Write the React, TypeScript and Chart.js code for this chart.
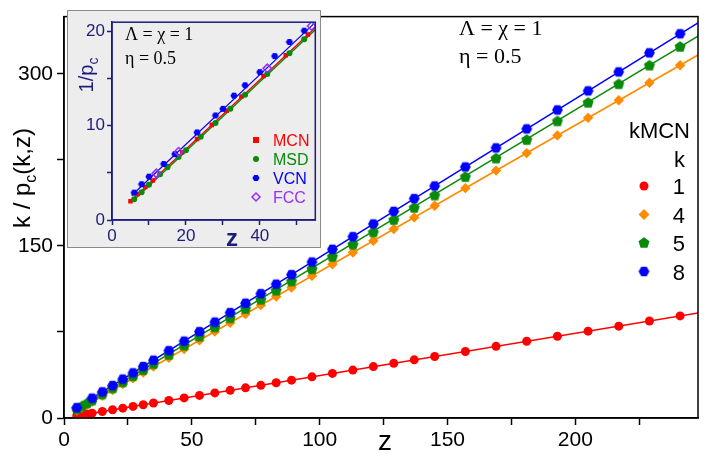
import React, { useEffect, useRef } from 'react';
import { Chart, registerables } from 'chart.js';
Chart.register(...registerables);

// ---------- main chart data ----------
const zGrid = [5, 7, 9, 11, 15, 19, 23, 27, 31, 35, 41, 47, 53, 59, 65, 71, 77, 83, 89, 97, 105, 113, 121, 129, 137, 145, 157, 169, 181, 193, 205, 217, 229, 241];
const k1Values = [2.0, 2.75, 3.5, 4.2, 5.7, 7.2, 8.6, 10.1, 11.6, 13.1, 15.3, 17.5, 19.7, 21.9, 24.1, 26.3, 28.5, 30.7, 33.0, 35.9, 38.9, 41.8, 44.8, 47.7, 50.7, 53.6, 58.0, 62.5, 66.9, 71.3, 75.7, 80.1, 84.6, 89.0];
const k4Values = [6.5, 9.1, 11.6, 14.2, 19.3, 24.4, 29.5, 34.6, 39.7, 44.8, 52.5, 60.1, 67.8, 75.4, 83.1, 90.7, 98.4, 106.0, 113.7, 123.9, 134.1, 144.3, 154.5, 164.7, 174.9, 185.1, 200.4, 215.7, 231.0, 246.4, 261.7, 277.0, 292.3, 307.6];
const k5Values = [7.5, 10.0, 12.6, 15.2, 20.5, 25.8, 31.1, 36.4, 41.7, 47.0, 55.0, 63.0, 71.0, 79.0, 87.0, 95.0, 103.0, 111.0, 119.0, 129.7, 140.4, 151.1, 161.8, 172.5, 183.2, 193.9, 210.0, 226.2, 242.4, 258.6, 274.8, 291.0, 307.2, 323.6];
const zK8 = [5, 11, 15, 19, 23, 27, 31, 35, 41, 47, 53, 59, 65, 71, 77, 83, 89, 97, 105, 113, 121, 129, 137, 145, 157, 169, 181, 193, 205, 217, 229, 241];
const k8Values = [9.0, 17.3, 22.8, 28.3, 33.9, 39.4, 44.9, 50.4, 58.7, 67.0, 75.3, 83.6, 91.9, 100.1, 108.4, 116.7, 125.0, 136.0, 147.1, 158.1, 169.2, 180.2, 191.3, 202.3, 218.9, 235.5, 252.1, 268.6, 285.2, 301.8, 318.4, 335.0];

const fitZ = [5, 250];
const fitK1 = [2.0, 92.3];
const fitK4 = [6.5, 319.1];
const fitK5 = [7.5, 335.6];
const fitK8 = [9.0, 347.3];

const xTickValues = [0, 25, 50, 75, 100, 125, 150, 175, 200, 225];
const xTickLabels = [0, 50, 100, 150, 200];
const yTickValues = [0, 75, 150, 225, 300];
const yTickLabels = [0, 150, 300];

const legendTitle = 'kMCN';
const legendSub = 'k';
const legendKs = ['1', '4', '5', '8'];
const paramLine1 = 'Λ = χ = 1';
const paramLine2 = 'η = 0.5';

// ---------- inset data ----------
const mcnZ = [5, 7, 9, 11, 15, 19, 23, 27, 31, 35, 41, 47, 53];
const mcnV = [2.0, 2.75, 3.5, 4.2, 5.7, 7.2, 8.6, 10.1, 11.6, 13.1, 15.3, 17.5, 19.7];
const msdZ = [6, 8, 10, 13, 15, 18, 20, 24, 28, 32, 36, 42, 48, 52];
const msdV = [2.2, 2.95, 3.75, 4.85, 5.6, 6.7, 7.4, 8.85, 10.3, 11.8, 13.3, 15.5, 17.7, 19.2];
const vcnZ = [6, 8, 10, 14, 17, 23, 28, 30, 33, 36, 40, 44, 48, 52];
const vcnV = [2.9, 3.8, 4.6, 5.95, 7.0, 9.3, 11.1, 11.8, 13.2, 14.3, 15.7, 17.4, 18.9, 20.1];
const fccZ = [12, 18, 42, 54];
const fccV = [4.95, 7.25, 16.1, 20.6];

const mcnFitZ = [5, 55];
const mcnFitV = [2.0, 20.4];
const msdFitZ = [6, 55];
const msdFitV = [2.15, 20.2];
const vcnFitZ = [5.3, 54.5];
const vcnFitV = [2.6, 20.8];

const insetXTicks = [0, 10, 20, 30, 40, 50];
const insetXLabels = [0, 20, 40];
const insetYTicks = [0, 5, 10, 15, 20];
const insetYLabels = [0, 10, 20];
const insetLegend = ['MCN', 'MSD', 'VCN', 'FCC'];

// ---------- styles ----------
const RED = '#ff0000';
const ORANGE = '#ff8c00';
const GREEN = '#0a8a0a';
const BLUE = '#0000ff';
const PURPLE = '#9a2cff';
const NAVY = '#1c1c80';
const SANS = "'Liberation Sans', Arial, Helvetica, sans-serif";
const SERIF = "'Liberation Serif', 'Times New Roman', serif";

function zip(xs: number[], ys: number[]) {
  return xs.map((x, i) => ({ x, y: ys[i] }));
}

function polygonImage(n: number, r: number, color: string, rot: number) {
  const c = document.createElement('canvas');
  const s = Math.ceil(2 * r + 2);
  c.width = s;
  c.height = s;
  const ctx = c.getContext('2d')!;
  ctx.fillStyle = color;
  ctx.beginPath();
  for (let i = 0; i < n; i++) {
    const a = rot + (i * 2 * Math.PI) / n;
    const px = s / 2 + r * Math.cos(a);
    const py = s / 2 + r * Math.sin(a);
    if (i === 0) ctx.moveTo(px, py);
    else ctx.lineTo(px, py);
  }
  ctx.closePath();
  ctx.fill();
  return c;
}

function fitLine(xs: number[], ys: number[], color: string, width: number) {
  return {
    type: 'line' as const,
    data: zip(xs, ys),
    borderColor: color,
    borderWidth: width,
    pointRadius: 0,
    showLine: true,
    fill: false,
    order: 10,
  };
}

export default function App() {
  const mainRef = useRef<HTMLCanvasElement>(null);
  const insetRef = useRef<HTMLCanvasElement>(null);

  useEffect(() => {
    const pentagon = polygonImage(5, 5.8, GREEN, -Math.PI / 2);
    const hexagon = polygonImage(6, 5.4, BLUE, 0);
    const hexSmall = polygonImage(6, 3.6, BLUE, 0);

    const mainPlugin = {
      id: 'mainDeco',
      afterDraw(chart: any) {
        const ctx = chart.ctx as CanvasRenderingContext2D;
        const a = chart.chartArea;
        ctx.save();
        ctx.strokeStyle = '#000';
        ctx.lineWidth = 1.5;
        ctx.strokeRect(a.left, a.top, a.right - a.left, a.bottom - a.top);

        // parameters
        ctx.fillStyle = '#000';
        ctx.font = `22px ${SERIF}`;
        ctx.textAlign = 'left';
        ctx.textBaseline = 'alphabetic';
        ctx.fillText(paramLine1, 459, 35);
        ctx.fillText(paramLine2, 459, 63);

        // x title
        ctx.font = `28px ${SANS}`;
        ctx.textAlign = 'center';
        ctx.fillText('z', 385, 450);

        // y title
        ctx.save();
        ctx.translate(30, 178);
        ctx.rotate(-Math.PI / 2);
        const big = `24px ${SANS}`;
        const small = `16px ${SANS}`;
        const p1 = 'k / p';
        const sub = 'c';
        const p2 = '(k,z)';
        ctx.font = big;
        const w1 = ctx.measureText(p1).width;
        const w3 = ctx.measureText(p2).width;
        ctx.font = small;
        const w2 = ctx.measureText(sub).width;
        const tot = w1 + w2 + w3;
        let sx = -tot / 2;
        ctx.textAlign = 'left';
        ctx.font = big;
        ctx.fillText(p1, sx, 0);
        sx += w1;
        ctx.font = small;
        ctx.fillText(sub, sx, 6);
        sx += w2;
        ctx.font = big;
        ctx.fillText(p2, sx, 0);
        ctx.restore();

        // legend
        ctx.font = `22px ${SANS}`;
        ctx.textAlign = 'right';
        ctx.fillStyle = '#000';
        ctx.fillText(legendTitle, 690, 138);
        ctx.fillText(legendSub, 685, 167);
        const rows = [186, 214.5, 243, 271.5];
        const mx = 644;
        legendKs.forEach((t, i) => {
          const cy = rows[i];
          ctx.fillStyle = '#000';
          ctx.fillText(t, 685, cy + 8);
          if (i === 0) {
            ctx.fillStyle = RED;
            ctx.beginPath();
            ctx.arc(mx, cy, 4.5, 0, Math.PI * 2);
            ctx.fill();
          } else if (i === 1) {
            ctx.fillStyle = ORANGE;
            ctx.beginPath();
            ctx.moveTo(mx, cy - 5.5);
            ctx.lineTo(mx + 5.5, cy);
            ctx.lineTo(mx, cy + 5.5);
            ctx.lineTo(mx - 5.5, cy);
            ctx.closePath();
            ctx.fill();
          } else if (i === 2) {
            ctx.drawImage(pentagon, mx - pentagon.width / 2, cy - pentagon.height / 2);
          } else {
            ctx.drawImage(hexagon, mx - hexagon.width / 2, cy - hexagon.height / 2);
          }
        });
        ctx.restore();
      },
    };

    const main = new Chart(mainRef.current!, {
      type: 'scatter',
      data: {
        datasets: [
          { data: zip(zK8, k8Values), pointStyle: hexagon as any, pointRadius: 5.5, showLine: false, order: 0 },
          { data: zip(zGrid, k5Values), pointStyle: pentagon as any, pointRadius: 6, showLine: false, order: 1 },
          { data: zip(zGrid, k4Values), pointStyle: 'rectRot', pointRadius: 5.2, backgroundColor: ORANGE, borderColor: ORANGE, borderWidth: 0, showLine: false, order: 2 },
          { data: zip(zGrid, k1Values), pointStyle: 'circle', pointRadius: 4.5, backgroundColor: RED, borderColor: RED, borderWidth: 0, showLine: false, order: 3 },
          fitLine(fitZ, fitK8, BLUE, 1.6),
          fitLine(fitZ, fitK5, GREEN, 1.6),
          fitLine(fitZ, fitK4, ORANGE, 1.6),
          fitLine(fitZ, fitK1, RED, 1.6),
        ] as any,
      },
      options: {
        animation: false,
        responsive: false,
        devicePixelRatio: 1,
        layout: { padding: { left: 0, top: 7, right: 4, bottom: 0 } },
        plugins: { legend: { display: false }, tooltip: { enabled: false } },
        events: [],
        scales: {
          x: {
            type: 'linear',
            min: 0,
            max: 248,
            afterBuildTicks: (s: any) => { s.ticks = xTickValues.map((v) => ({ value: v })); },
            afterFit: (s: any) => { s.height = 39; },
            ticks: {
              autoSkip: false,
              maxRotation: 0,
              color: '#000',
              padding: 3,
              font: { family: SANS, size: 21 },
              callback: (v: any) => (xTickLabels.includes(Number(v)) ? String(v) : ''),
            },
            grid: { drawOnChartArea: false, drawTicks: true, tickLength: 7, tickColor: '#000', tickWidth: 1.5 },
            border: { display: true, color: '#000', width: 1.5 },
          },
          y: {
            type: 'linear',
            min: 0,
            max: 350,
            afterBuildTicks: (s: any) => { s.ticks = yTickValues.map((v) => ({ value: v })); },
            afterFit: (s: any) => { s.width = 64; },
            ticks: {
              autoSkip: false,
              color: '#000',
              padding: 4,
              font: { family: SANS, size: 21 },
              callback: (v: any) => (yTickLabels.includes(Number(v)) ? String(v) : ''),
            },
            grid: { drawOnChartArea: false, drawTicks: true, tickLength: 7, tickColor: '#000', tickWidth: 1.5 },
            border: { display: true, color: '#000', width: 1.5 },
          },
        },
      } as any,
      plugins: [mainPlugin],
    });

    const insetPlugin = {
      id: 'insetDeco',
      beforeDraw(chart: any) {
        const ctx = chart.ctx as CanvasRenderingContext2D;
        ctx.save();
        ctx.fillStyle = '#ededed';
        ctx.fillRect(0, 0, chart.width, chart.height);
        ctx.strokeStyle = '#8a8a8a';
        ctx.lineWidth = 1;
        ctx.strokeRect(0.5, 0.5, chart.width - 1, chart.height - 1);
        ctx.restore();
      },
      afterDraw(chart: any) {
        const ctx = chart.ctx as CanvasRenderingContext2D;
        const a = chart.chartArea;
        ctx.save();
        ctx.strokeStyle = NAVY;
        ctx.lineWidth = 1.5;
        ctx.strokeRect(a.left, a.top, a.right - a.left, a.bottom - a.top);

        ctx.fillStyle = '#000';
        ctx.font = `18px ${SERIF}`;
        ctx.textAlign = 'left';
        ctx.textBaseline = 'alphabetic';
        ctx.fillText(paramLine1, 58, 30);
        ctx.fillText(paramLine2, 58, 54);

        // x title
        ctx.fillStyle = NAVY;
        ctx.font = `bold 24px ${SANS}`;
        ctx.textAlign = 'center';
        ctx.fillText('z', 165, 236);

        // y title
        ctx.save();
        ctx.translate(26, 65);
        ctx.rotate(-Math.PI / 2);
        const big = `20px ${SANS}`;
        const small = `14px ${SANS}`;
        ctx.font = big;
        const w1 = ctx.measureText('1/p').width;
        ctx.font = small;
        const w2 = ctx.measureText('c').width;
        let sx = -(w1 + w2) / 2;
        ctx.textAlign = 'left';
        ctx.font = big;
        ctx.fillText('1/p', sx, 0);
        sx += w1;
        ctx.font = small;
        ctx.fillText('c', sx, 5);
        ctx.restore();

        // legend
        const rows = [130, 149, 168, 187];
        const colors = [RED, GREEN, BLUE, PURPLE];
        const mx = 189;
        ctx.font = `16px ${SANS}`;
        ctx.textAlign = 'left';
        insetLegend.forEach((t, i) => {
          const cy = rows[i];
          ctx.fillStyle = colors[i];
          ctx.fillText(t, 206, cy + 6);
          if (i === 0) {
            ctx.fillRect(mx - 3, cy - 3, 6, 6);
          } else if (i === 1) {
            ctx.beginPath();
            ctx.arc(mx, cy, 3, 0, Math.PI * 2);
            ctx.fill();
          } else if (i === 2) {
            ctx.drawImage(hexSmall, mx - hexSmall.width / 2, cy - hexSmall.height / 2);
          } else {
            ctx.strokeStyle = PURPLE;
            ctx.lineWidth = 1.5;
            ctx.beginPath();
            ctx.moveTo(mx, cy - 4);
            ctx.lineTo(mx + 4, cy);
            ctx.lineTo(mx, cy + 4);
            ctx.lineTo(mx - 4, cy);
            ctx.closePath();
            ctx.stroke();
          }
        });
        ctx.restore();
      },
    };

    const inset = new Chart(insetRef.current!, {
      type: 'scatter',
      data: {
        datasets: [
          { data: zip(fccZ, fccV), pointStyle: 'rectRot', pointRadius: 4.2, backgroundColor: 'rgba(0,0,0,0)', borderColor: PURPLE, borderWidth: 1.5, showLine: false, order: 0 },
          { data: zip(vcnZ, vcnV), pointStyle: hexSmall as any, pointRadius: 3.6, showLine: false, order: 1 },
          { data: zip(msdZ, msdV), pointStyle: 'circle', pointRadius: 3, backgroundColor: GREEN, borderWidth: 0, showLine: false, order: 2 },
          { data: zip(mcnZ, mcnV), pointStyle: 'rect', pointRadius: 3.2, backgroundColor: RED, borderWidth: 0, showLine: false, order: 3 },
          fitLine(vcnFitZ, vcnFitV, BLUE, 1.2),
          fitLine(msdFitZ, msdFitV, GREEN, 1.4),
          fitLine(mcnFitZ, mcnFitV, RED, 1.4),
        ] as any,
      },
      options: {
        animation: false,
        responsive: false,
        devicePixelRatio: 1,
        layout: { padding: { left: 0, top: 5, right: 3, bottom: 0 } },
        plugins: { legend: { display: false }, tooltip: { enabled: false } },
        events: [],
        scales: {
          x: {
            type: 'linear',
            min: 0,
            max: 55,
            afterBuildTicks: (s: any) => { s.ticks = insetXTicks.map((v) => ({ value: v })); },
            afterFit: (s: any) => { s.height = 28; },
            ticks: {
              autoSkip: false,
              maxRotation: 0,
              color: NAVY,
              padding: 1,
              font: { family: SANS, size: 17 },
              callback: (v: any) => (insetXLabels.includes(Number(v)) ? String(v) : ''),
            },
            grid: { drawOnChartArea: false, drawTicks: true, tickLength: 5, tickColor: NAVY, tickWidth: 1.5 },
            border: { display: true, color: NAVY, width: 1.5 },
          },
          y: {
            type: 'linear',
            min: 0,
            max: 21,
            afterBuildTicks: (s: any) => { s.ticks = insetYTicks.map((v) => ({ value: v })); },
            afterFit: (s: any) => { s.width = 45; },
            ticks: {
              autoSkip: false,
              color: NAVY,
              padding: 2,
              font: { family: SANS, size: 17 },
              callback: (v: any) => (insetYLabels.includes(Number(v)) ? String(v) : ''),
            },
            grid: { drawOnChartArea: false, drawTicks: true, tickLength: 5, tickColor: NAVY, tickWidth: 1.5 },
            border: { display: true, color: NAVY, width: 1.5 },
          },
        },
      } as any,
      plugins: [insetPlugin],
    });

    return () => {
      main.destroy();
      inset.destroy();
    };
  }, []);

  return (
    <div style={{ position: 'absolute', left: 0, top: 0, width: 705, height: 457, background: '#fff' }}>
      <canvas ref={mainRef} width={705} height={457} style={{ position: 'absolute', left: 0, top: 0, width: 705, height: 457 }} />
      <canvas ref={insetRef} width={254} height={238} style={{ position: 'absolute', left: 67, top: 10, width: 254, height: 238 }} />
    </div>
  );
}
